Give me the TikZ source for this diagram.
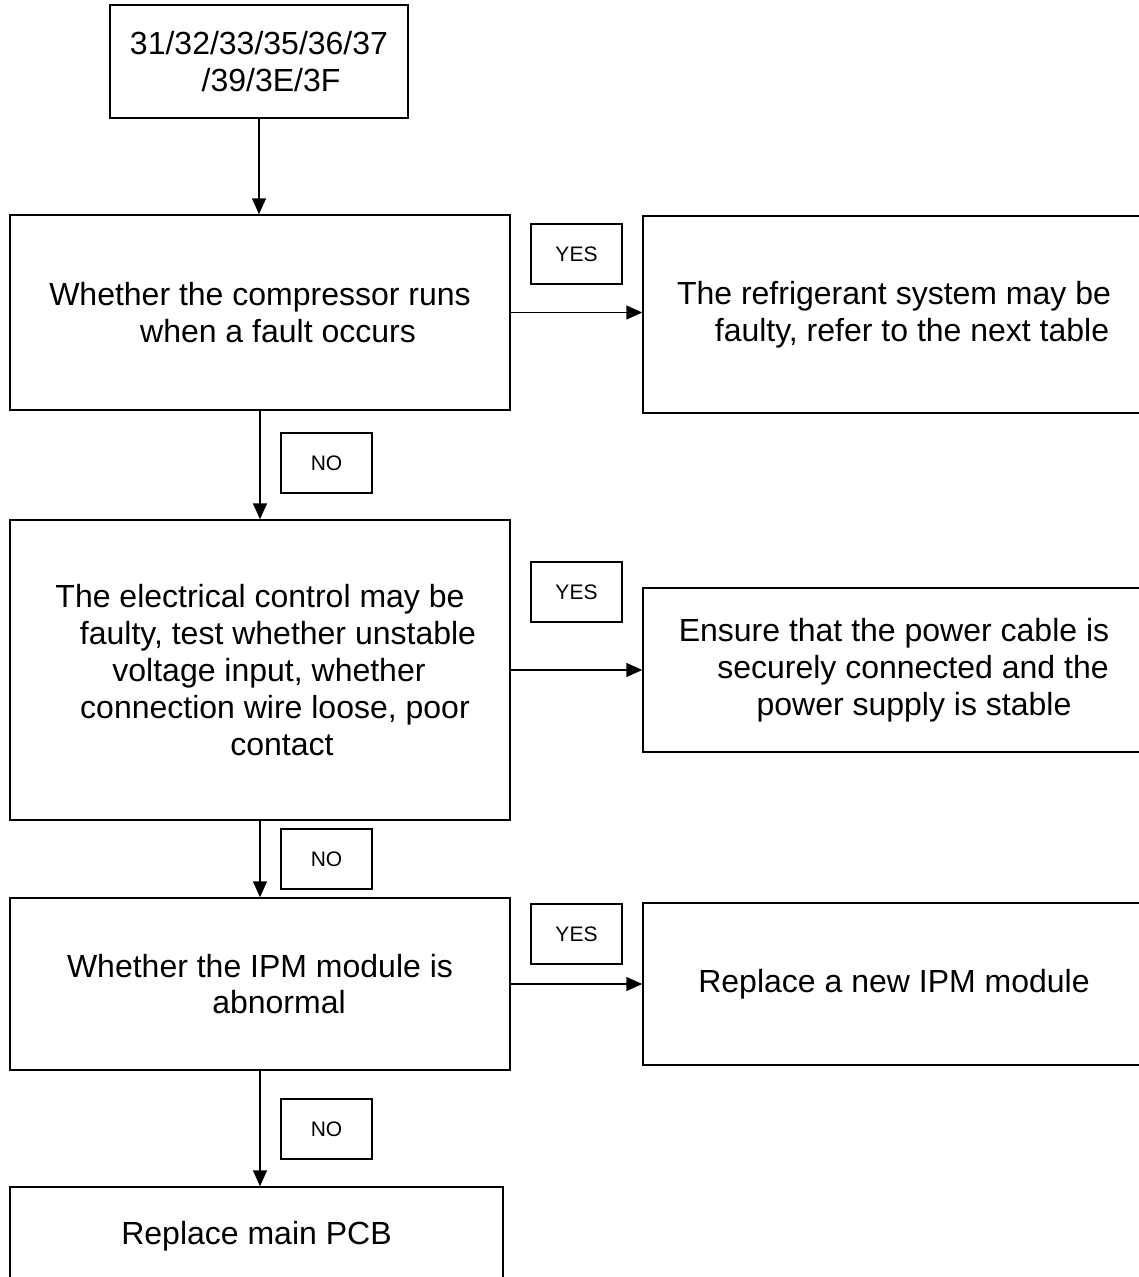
\documentclass[tikz,border=0pt]{standalone}
\usepackage{fontspec}
\setmainfont{Liberation Sans}
\usetikzlibrary{arrows.meta}

\begin{document}
\begin{tikzpicture}[x=1pt, y=-1pt, line width=1.5pt,
  box/.style={draw, rectangle, align=center, inner sep=0pt, font=\fontsize{32}{36.8}\selectfont},
  tag/.style={draw, rectangle, minimum width=91pt, minimum height=60pt, inner sep=0pt, font=\fontsize{21}{24}\selectfont},
  flow/.style={-{Triangle[length=16pt,width=14pt]}}]
  \useasboundingbox (0,0) rectangle (1139,1277);
  \clip (0,0) rectangle (1139,1277);
  % fault codes
  \node[box, minimum width=298pt, minimum height=113pt] (codes) at (259,61.5)
    {31/32/33/35/36/37\\\hspace*{24pt}/39/3E/3F};
  % left column: checks
  \node[box, minimum width=500pt, minimum height=195pt] (compr) at (260,312.5)
    {Whether the compressor runs\\\hspace*{36pt}when a fault occurs};
  \node[box, minimum width=500pt, minimum height=300pt] (elec) at (260,670)
    {The electrical control may be\\\hspace*{36pt}faulty, test whether unstable\\\hspace*{18pt}voltage input, whether\\\hspace*{30pt}connection wire loose, poor\\\hspace*{44pt}contact};
  \node[box, minimum width=500pt, minimum height=172pt] (ipm) at (260,984)
    {Whether the IPM module is\\\hspace*{38pt}abnormal};
  \node[box, minimum width=493pt, minimum height=98pt] (pcb) at (256.5,1236)
    {Replace main PCB};
  % right column: actions (cut by the page edge)
  \node[box, minimum width=502pt, minimum height=197pt] (refr) at (894,314.5)
    {The refrigerant system may be\\\hspace*{36pt}faulty, refer to the next table};
  \node[box, minimum width=502pt, minimum height=164pt] (power) at (894,670)
    {Ensure that the power cable is\\\hspace*{38pt}securely connected and the\\\hspace*{40pt}power supply is stable};
  \node[box, minimum width=502pt, minimum height=162pt] (newipm) at (894,984)
    {Replace a new IPM module};
  % answers
  \node[tag] (yes1) at (576.5,254) {YES};
  \node[tag] (yes2) at (576.5,592) {YES};
  \node[tag] (yes3) at (576.5,934) {YES};
  \node[tag] (no1) at (326.5,463) {NO};
  \node[tag] (no2) at (326.5,859) {NO};
  \node[tag] (no3) at (326.5,1129) {NO};
  % connectors
  \draw[flow] (codes.south) -- (codes.south |- compr.north);
  \draw[flow] (compr.south) -- (elec.north);
  \draw[flow] (elec.south) -- (ipm.north);
  \draw[flow] (ipm.south) -- (ipm.south |- pcb.north);
  \draw[flow] (compr.east) -- (compr.east -| refr.west);
  \draw[flow] (elec.east) -- (power.west);
  \draw[flow] (ipm.east) -- (newipm.west);
\end{tikzpicture}
\end{document}
